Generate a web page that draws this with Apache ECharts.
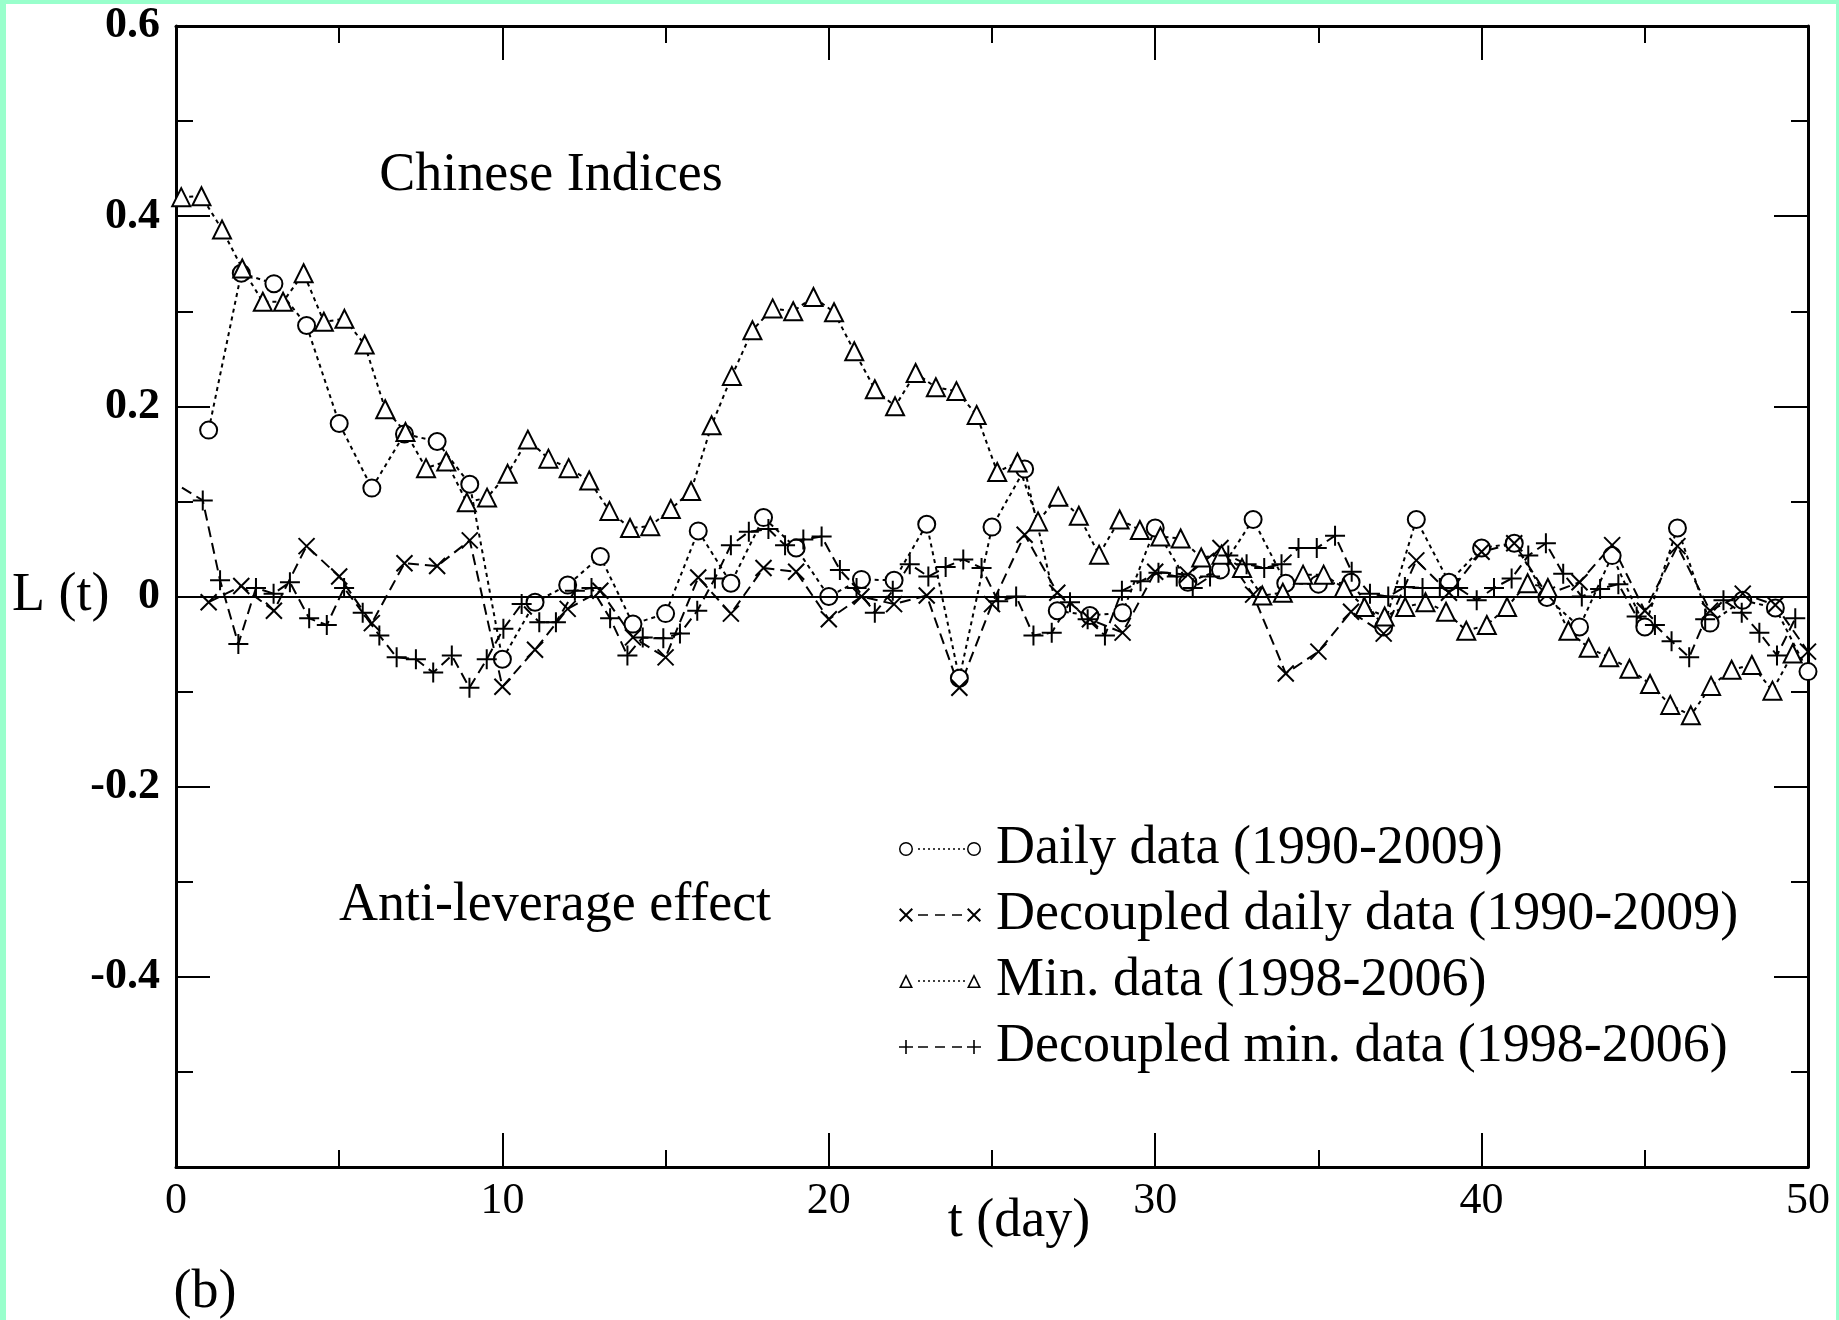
<!DOCTYPE html>
<html>
<head>
<meta charset="utf-8">
<script src="https://cdn.jsdelivr.net/npm/echarts@6/dist/echarts.min.js"></script>
<style>
  html, body { margin: 0; padding: 0; background: #99ffcc; }
  #chart { position: absolute; left: 6px; top: 4px; width: 1830px; height: 1316px; background: #ffffff; }
</style>
</head>
<body>
<div id="chart"></div>
<script>
// ---- data ----
const xTicks = [0, 10, 20, 30, 40, 50];
const yTicks = [0.6, 0.4, 0.2, 0, -0.2, -0.4];
const seriesNames = ['Daily data (1990-2009)', 'Decoupled daily data (1990-2009)', 'Min. data (1998-2006)', 'Decoupled min. data (1998-2006)'];

const tDaily = [1,2,3,4,5,6,7,8,9,10,11,12,13,14,15,16,17,18,19,20,21,22,23,24,25,26,27,28,29,30,31,32,33,34,35,36,37,38,39,40,41,42,43,44,45,46,47,48,49,50];
const daily = [0.175, 0.340, 0.329, 0.285, 0.182, 0.114, 0.171, 0.163, 0.118, -0.066,
  -0.006, 0.012, 0.042, -0.029, -0.018, 0.069, 0.014, 0.083, 0.051, 0.000,
  0.018, 0.017, 0.076, -0.086, 0.073, 0.134, -0.015, -0.020, -0.017, 0.072,
  0.015, 0.028, 0.081, 0.014, 0.013, 0.015, -0.032, 0.081, 0.015, 0.051,
  0.056, -0.001, -0.032, 0.043, -0.032, 0.072, -0.028, -0.004, -0.012, -0.079];
const decoupledDaily = [-0.006, 0.011, -0.015, 0.053, 0.021, -0.028, 0.035, 0.032, 0.059, -0.095,
  -0.056, -0.013, 0.006, -0.043, -0.064, 0.020, -0.018, 0.030, 0.026, -0.024,
  0.000, -0.008, 0.001, -0.096, -0.008, 0.065, 0.004, -0.024, -0.038, 0.026,
  0.023, 0.051, 0.002, -0.081, -0.058, -0.016, -0.039, 0.038, 0.004, 0.047,
  0.056, 0.002, 0.015, 0.054, -0.015, 0.053, -0.015, 0.003, -0.009, -0.058];

const tMin = [0.16, 0.78, 1.41, 2.03, 2.66, 3.28, 3.91, 4.53, 5.16, 5.78,
  6.41, 7.03, 7.66, 8.28, 8.91, 9.53, 10.16, 10.78, 11.41, 12.03,
  12.66, 13.28, 13.91, 14.53, 15.16, 15.78, 16.41, 17.03, 17.66, 18.28,
  18.91, 19.53, 20.16, 20.78, 21.41, 22.03, 22.66, 23.28, 23.91, 24.53,
  25.16, 25.78, 26.41, 27.03, 27.66, 28.28, 28.91, 29.53, 30.16, 30.78,
  31.41, 32.03, 32.66, 33.28, 33.91, 34.53, 35.16, 35.78, 36.41, 37.03,
  37.66, 38.28, 38.91, 39.53, 40.16, 40.78, 41.41, 42.03, 42.66, 43.28,
  43.91, 44.53, 45.16, 45.78, 46.41, 47.03, 47.66, 48.28, 48.91, 49.53];
const minData = [0.420, 0.421, 0.386, 0.345, 0.310, 0.310, 0.340, 0.289, 0.292, 0.265,
  0.197, 0.173, 0.135, 0.142, 0.099, 0.104, 0.129, 0.165, 0.145, 0.135,
  0.122, 0.090, 0.072, 0.074, 0.092, 0.111, 0.180, 0.232, 0.280, 0.303,
  0.300, 0.315, 0.299, 0.258, 0.218, 0.200, 0.235, 0.220, 0.216, 0.191,
  0.131, 0.141, 0.079, 0.105, 0.085, 0.044, 0.081, 0.070, 0.063, 0.061,
  0.041, 0.044, 0.030, 0.001, 0.004, 0.023, 0.023, 0.009, -0.011, -0.021,
  -0.011, -0.006, -0.016, -0.036, -0.030, -0.011, 0.014, 0.009, -0.036, -0.054,
  -0.064, -0.076, -0.092, -0.114, -0.125, -0.094, -0.077, -0.072, -0.099, -0.060];

const tDecMin = [-0.26, 0.82, 1.35, 1.91, 2.45, 2.99, 3.49, 4.08, 4.62, 5.15,
  5.72, 6.23, 6.76, 7.35, 7.88, 8.45, 8.99, 9.52, 10.03, 10.59,
  11.13, 11.64, 12.22, 12.73, 13.30, 13.83, 14.30, 14.93, 15.44, 15.97,
  16.51, 17.00, 17.55, 18.15, 18.66, 19.22, 19.78, 20.34, 20.85, 21.41,
  21.96, 22.48, 23.05, 23.58, 24.12, 24.68, 25.19, 25.74, 26.27, 26.83,
  27.39, 27.93, 28.46, 28.98, 29.55, 30.10, 30.66, 31.15, 31.68, 32.24,
  32.80, 33.34, 33.87, 34.39, 34.95, 35.51, 36.02, 36.58, 37.14, 37.65,
  38.19, 38.72, 39.28, 39.85, 40.38, 40.92, 41.43, 41.97, 42.50, 43.07,
  43.63, 44.19, 44.75, 45.31, 45.82, 46.36, 46.85, 47.41, 47.97, 48.51,
  49.05, 49.61];
const decMin = [0.124, 0.101, 0.017, -0.050, 0.009, 0.003, 0.015, -0.023, -0.030, 0.009,
  -0.017, -0.041, -0.064, -0.066, -0.080, -0.062, -0.096, -0.066, -0.034, -0.008,
  -0.027, -0.027, 0.006, 0.009, -0.023, -0.062, -0.043, -0.044, -0.039, -0.015,
  0.019, 0.054, 0.068, 0.071, 0.054, 0.060, 0.063, 0.028, 0.009, -0.017,
  0.006, 0.034, 0.021, 0.031, 0.039, 0.030, -0.005, 0.000, -0.041, -0.038,
  -0.006, -0.024, -0.041, 0.006, 0.016, 0.025, 0.021, 0.009, 0.021, 0.043,
  0.034, 0.030, 0.034, 0.051, 0.051, 0.064, 0.026, 0.003, 0.000, 0.010,
  0.009, 0.009, 0.009, -0.004, 0.009, 0.019, 0.043, 0.056, 0.024, 0.000,
  0.008, 0.013, -0.021, -0.030, -0.047, -0.064, -0.024, -0.004, -0.017, -0.038,
  -0.062, -0.023];

// ---- chart ----
const FONT = "'Liberation Serif', 'Times New Roman', serif";
const pairs = (xs, ys) => xs.map((x, i) => [x, ys[i]]);
const crossPath = 'path://M0,0L10,10M10,0L0,10';
const plusPath = 'path://M5,0L5,10M0,5L10,5';

// legend icons: marker at both ends joined by a dotted / dashed line (box 82 x 14)
const ring = (cx) => `M${cx - 7},8 A7,7 0 1,1 ${cx + 7},8 A7,7 0 1,1 ${cx - 7},8 Z ` +
  `M${cx - 5.5},8 A5.5,5.5 0 1,0 ${cx + 5.5},8 A5.5,5.5 0 1,0 ${cx - 5.5},8 Z `;
const tri = (x0) => `M${x0},15 L${x0 + 7},1 L${x0 + 14},15 Z M${x0 + 2.6},13.6 L${x0 + 11.4},13.6 L${x0 + 7},4.6 Z `;
const cross = (x0) => `M${x0},2.4 L${x0 + 1.4},1 L${x0 + 14},13.6 L${x0 + 12.6},15 Z ` +
  `M${x0 + 12.6},1 L${x0 + 14},2.4 L${x0 + 1.4},15 L${x0},13.6 Z `;
const plus = (x0) => `M${x0 + 6.2},1 h1.6 v14 h-1.6 Z M${x0},7.2 h14 v1.6 h-14 Z `;
const dots = () => { let s = ''; for (const x of [19, 24, 29, 34, 39, 44, 49, 54, 59, 64]) s += `M${x},7.3 h2 v1.4 h-2 Z `; return s; };
const dashes = () => { let s = ''; for (const x of [19, 36, 53]) s += `M${x},7.3 h10 v1.4 h-10 Z `; return s; };
const legendIcons = [
  'path://' + ring(7) + dots() + ring(75),
  'path://' + cross(0) + dashes() + cross(68),
  'path://' + tri(0) + dots() + tri(68),
  'path://' + plus(0) + dashes() + plus(68)
];

const chart = echarts.init(document.getElementById('chart'), null, { renderer: 'canvas' });

function baseX(pos, showLabel) {
  return {
    type: 'value', position: pos, min: 0, max: 50, interval: 10,
    axisLine: { show: true, onZero: false, lineStyle: { color: '#000', width: 3 } },
    axisTick: { show: true, inside: true, length: 34, lineStyle: { color: '#000', width: 2 } },
    minorTick: { show: true, splitNumber: 2, length: 17, lineStyle: { color: '#000', width: 2 } },
    splitLine: { show: false }, minorSplitLine: { show: false },
    axisLabel: {
      show: showLabel, margin: 12, fontSize: 44, color: '#000', fontFamily: FONT,
      formatter: v => (xTicks.indexOf(v) >= 0 ? String(v) : '')
    }
  };
}
function baseY(pos, showLabel) {
  return {
    type: 'value', position: pos, min: -0.6, max: 0.6, interval: 0.2,
    axisLine: { show: true, onZero: false, lineStyle: { color: '#000', width: 3 } },
    axisTick: { show: true, inside: true, length: 34, lineStyle: { color: '#000', width: 2 } },
    minorTick: { show: true, splitNumber: 2, length: 17, lineStyle: { color: '#000', width: 2 } },
    splitLine: { show: false }, minorSplitLine: { show: false },
    axisLabel: {
      show: showLabel, margin: 16, fontSize: 44, fontWeight: 'bold', color: '#000', fontFamily: FONT,
      formatter: v => {
        const r = Math.round(v * 10) / 10;
        const hit = yTicks.find(t => Math.abs(t - r) < 1e-6);
        if (hit === undefined) return '';
        return hit === 0 ? '0' : hit.toFixed(1);
      }
    }
  };
}

const lineBase = {
  type: 'line', xAxisIndex: 0, yAxisIndex: 0, clip: true,
  showSymbol: true, showAllSymbol: true, smooth: false
};

const option = {
  animation: false,
  backgroundColor: '#ffffff',
  textStyle: { fontFamily: FONT },
  grid: { left: 170, right: 28, top: 20, bottom: 153, containLabel: false },
  xAxis: [baseX('bottom', true), baseX('top', false)],
  yAxis: [baseY('left', true), baseY('right', false)],
  legend: {
    orient: 'vertical', left: 888, top: 812,
    itemWidth: 82, itemHeight: 16, itemGap: 10,
    itemStyle: { color: '#000', borderColor: '#000', borderWidth: 0 },
    textStyle: { fontSize: 54, color: '#000', fontFamily: FONT, lineHeight: 56, padding: [0, 0, 0, 10] },
    data: seriesNames.map((n, i) => ({ name: n, icon: legendIcons[i] }))
  },
  series: [
    Object.assign({}, lineBase, {
      name: seriesNames[0], data: pairs(tDaily, daily),
      symbol: 'emptyCircle', symbolSize: 17,
      lineStyle: { color: '#000', width: 2, type: [4, 4] },
      itemStyle: { color: '#000', borderColor: '#000', borderWidth: 2 },
      markLine: {
        silent: true, symbol: ['none', 'none'], label: { show: false },
        lineStyle: { color: '#000', width: 2, type: 'solid' },
        data: [{ yAxis: 0 }]
      },
      z: 3
    }),
    Object.assign({}, lineBase, {
      name: seriesNames[1], data: pairs(tDaily, decoupledDaily),
      symbol: crossPath, symbolSize: 16,
      lineStyle: { color: '#000', width: 2, type: [11, 6] },
      itemStyle: { color: 'none', borderColor: '#000', borderWidth: 2 },
      z: 3
    }),
    Object.assign({}, lineBase, {
      name: seriesNames[2], data: pairs(tMin, minData),
      symbol: 'emptyTriangle', symbolSize: 18,
      lineStyle: { color: '#000', width: 2, type: [4, 4] },
      itemStyle: { color: '#000', borderColor: '#000', borderWidth: 2 },
      z: 3
    }),
    Object.assign({}, lineBase, {
      name: seriesNames[3], data: pairs(tDecMin, decMin),
      symbol: plusPath, symbolSize: 20,
      lineStyle: { color: '#000', width: 2, type: [11, 6] },
      itemStyle: { color: 'none', borderColor: '#000', borderWidth: 2 },
      z: 3
    })
  ],
  graphic: [
    { type: 'text', x: 545, y: 172, style: { text: 'Chinese Indices', font: '54px ' + FONT, fill: '#000', textAlign: 'center', textVerticalAlign: 'middle' } },
    { type: 'text', x: 549, y: 902, style: { text: 'Anti-leverage effect', font: '54px ' + FONT, fill: '#000', textAlign: 'center', textVerticalAlign: 'middle' } },
    { type: 'text', x: 6, y: 592, style: { text: 'L (t)', font: '54px ' + FONT, fill: '#000', textAlign: 'left', textVerticalAlign: 'middle' } },
    { type: 'text', x: 1013, y: 1218, style: { text: 't (day)', font: '54px ' + FONT, fill: '#000', textAlign: 'center', textVerticalAlign: 'middle' } },
    { type: 'text', x: 199, y: 1289, style: { text: '(b)', font: '54px ' + FONT, fill: '#000', textAlign: 'center', textVerticalAlign: 'middle' } }
  ]
};
chart.setOption(option);
</script>
</body>
</html>
